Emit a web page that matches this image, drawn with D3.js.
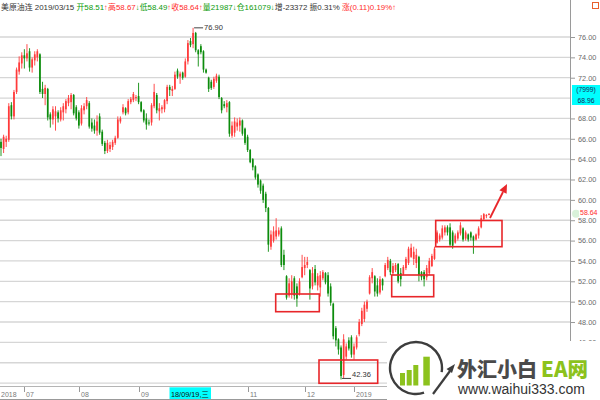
<!DOCTYPE html>
<html><head><meta charset="utf-8">
<script src="https://cdn.jsdelivr.net/npm/d3@7"></script>
<style>html,body{margin:0;padding:0;background:#fff;}svg{display:block;}</style>
</head><body>
<svg id="c" width="600" height="400"></svg>
<script>
// ---- data ----
const opens = [65.7,65.0,65.7,65.9,69.3,68.2,70.6,72.6,73.4,74.2,73.9,74.6,73.0,73.7,74.0,74.3,70.9,70.4,70.9,68.4,
67.9,68.2,68.6,67.9,68.6,68.9,69.5,69.6,70.3,69.1,68.6,67.5,68.8,69.2,69.5,67.6,67.3,66.8,68.2,66.7,
65.6,64.8,65.0,65.2,65.6,66.1,67.7,68.6,69.0,68.6,69.6,69.8,70.0,70.2,69.6,68.8,68.0,67.6,67.6,69.2,
70.3,68.7,68.9,68.9,69.7,71.1,70.7,70.9,72.7,72.1,72.5,72.1,73.6,75.6,75.3,76.4,74.7,75.1,74.6,72.8,
72.0,71.6,71.1,71.7,72.1,70.0,69.4,69.1,69.6,66.3,66.6,67.2,67.3,67.8,67.0,66.2,64.9,64.0,63.3,62.5,
61.9,61.4,60.6,59.2,55.4,56.0,56.4,56.6,57.2,54.6,52.5,50.6,50.8,52.3,51.5,50.8,52.4,53.3,53.6,53.1,
51.5,53.2,51.6,51.4,52.3,52.8,52.6,51.5,49.8,47.4,46.3,45.5,42.8,44.6,46.2,46.5,44.8,45.5,46.8,47.8,
48.3,49.3,50.8,52.3,52.5,51.6,50.9,52.2,52.5,53.3,54.0,52.8,53.1,53.7,52.8,52.7,53.3,53.8,54.4,54.2,
53.8,54.4,52.9,52.9,52.4,52.8,53.5,54.2,55.8,56.1,56.3,56.8,57.3,57.3,56.8,55.8,56.2,56.7,57.2,56.2,
56.6,56.8,56.4,56.1,56.5,57.3,58.1,58.4,58.51];
const highs = [66.0,66.4,66.3,69.5,69.6,70.8,73.0,74.1,74.5,74.8,75.3,74.9,74.0,74.6,74.8,74.4,71.6,71.3,71.0,68.6,
69.2,69.2,68.8,69.1,69.5,69.9,70.3,70.5,70.4,69.3,68.8,69.3,69.5,70.1,69.7,68.0,67.9,68.3,68.5,66.9,
65.8,65.9,65.7,65.9,66.3,68.2,68.2,69.4,69.1,69.9,70.1,70.6,70.3,71.5,69.7,68.9,68.5,67.9,69.5,71.4,
70.5,69.5,69.3,69.9,71.3,71.3,71.2,72.6,72.9,72.6,72.6,73.9,75.7,75.9,76.9,76.5,74.8,75.3,74.7,72.9,
72.1,71.8,72.1,72.4,72.3,70.1,69.7,69.8,69.7,67.7,68.1,68.0,68.1,67.9,67.1,66.4,65.0,64.1,63.4,62.6,
62.0,61.6,60.8,59.3,57.0,57.4,58.2,57.3,57.4,55.1,52.6,52.3,52.6,52.5,51.8,52.3,54.6,54.4,54.4,53.2,
53.4,53.6,52.8,53.0,53.1,52.9,52.9,51.8,49.9,47.6,46.4,45.7,46.8,45.9,46.5,46.7,45.9,46.7,48.3,49.4,
50.0,50.2,52.6,53.3,52.6,52.3,52.5,52.3,53.8,54.4,54.2,53.8,53.8,53.8,53.3,53.6,54.4,55.4,55.7,55.4,
55.2,54.5,53.0,53.1,53.6,54.3,54.7,55.4,57.0,56.7,57.5,57.5,57.5,57.7,57.0,56.7,57.0,57.8,57.3,57.0,
56.7,56.9,56.5,56.7,57.4,58.5,58.7,58.6,58.67];
const lows = [64.3,64.6,65.2,65.7,67.9,67.9,70.4,72.3,72.9,72.9,73.6,72.6,72.5,73.2,73.6,70.4,70.0,69.3,67.8,67.1,
67.4,66.8,67.6,67.7,67.8,68.5,69.2,68.9,68.3,67.8,67.0,67.3,68.4,68.9,67.0,66.7,66.5,66.3,66.4,65.3,
64.5,64.6,64.7,64.9,65.4,66.0,67.5,68.4,68.3,68.4,69.4,69.6,69.7,69.4,68.6,67.6,66.9,67.3,67.3,69.0,
68.5,67.8,68.5,68.6,69.4,70.2,70.2,70.8,71.9,71.4,71.8,72.0,73.3,75.0,74.9,74.5,73.1,74.3,72.5,72.4,
70.6,70.8,70.9,71.5,69.9,68.5,69.0,68.6,66.2,66.1,66.2,66.8,66.7,66.3,65.4,64.7,63.6,62.9,62.0,61.2,
60.6,59.7,58.8,54.9,55.1,55.8,56.1,56.4,53.4,53.1,50.2,50.4,50.3,50.2,49.5,50.6,52.3,52.6,53.3,50.2,
51.2,51.6,51.1,50.5,52.1,51.7,50.5,49.6,46.3,45.6,44.8,42.36,42.5,44.3,45.2,44.5,44.3,45.3,46.6,47.6,
48.0,49.0,50.7,51.8,50.5,50.5,50.7,51.1,52.4,53.1,52.6,52.6,52.9,51.8,51.5,52.6,53.1,53.6,54.3,53.6,
53.3,52.0,52.1,51.5,52.1,52.6,53.4,54.1,55.7,55.9,56.1,56.5,56.5,55.4,55.2,55.7,56.0,56.5,55.9,56.0,
55.9,56.0,54.7,56.0,56.2,57.2,58.0,58.2,58.49];
const closes = [65.1,66.2,66.0,69.2,68.2,70.6,72.8,73.5,74.2,73.9,74.4,73.0,73.8,74.3,74.6,70.6,70.4,71.0,68.1,67.9,
68.9,68.7,68.0,68.8,69.2,69.7,70.0,70.3,68.5,68.0,67.3,69.0,69.2,69.8,67.2,67.0,66.8,67.7,66.6,65.5,
64.8,65.6,65.4,65.7,66.1,67.9,68.0,69.1,68.5,69.7,69.9,70.4,70.1,69.6,68.7,67.8,67.4,67.5,69.3,70.6,
68.8,69.0,69.1,69.8,71.1,70.8,70.9,72.3,72.1,72.4,72.0,73.6,75.4,75.2,76.4,74.7,74.3,74.5,72.8,72.5,
70.9,71.0,71.9,72.2,70.1,68.8,69.2,69.5,66.5,67.3,67.7,67.6,67.8,66.5,65.6,64.9,63.7,63.2,62.2,61.5,
60.9,60.0,59.2,55.6,56.6,56.9,57.0,57.0,53.6,53.6,50.4,51.8,52.0,50.6,50.3,52.0,53.4,53.6,53.9,51.3,
52.8,51.9,52.5,52.6,52.9,51.9,50.8,49.9,46.6,46.2,45.3,42.7,46.3,45.6,45.4,44.8,45.6,46.5,48.0,49.1,
49.7,50.0,52.4,52.9,51.0,50.8,52.2,51.6,53.6,54.1,52.9,53.5,53.6,52.0,52.2,53.4,54.2,55.2,55.3,54.9,
54.6,52.6,52.4,52.2,53.3,54.0,54.5,55.2,56.8,56.5,57.2,57.3,56.8,55.6,55.5,56.5,56.8,57.5,56.1,56.8,
56.1,56.3,56.0,56.6,57.2,58.2,58.6,58.5,58.64];
// 70.00 is hidden by the cyan crosshair box in the reference
const priceTicks = [76,74,72,68,66,64,62,60,58,56,54,52,50,48,46];
const gridValues = [76,74,72,70,68,66,64,62,60,58,56,54,52,50,48,46,44,42];
const monthTickIdx = [0, 9, 30, 53, 95, 117, 136];
const monthTickLabels = ["2018","07","08","09","11","12","2019"];
const highMark = {i: 74, v: 76.90, label: "76.90"};
const lowMark = {i: 131, v: 42.36, label: "42.36"};
const lastPrice = 58.64;
const crossPrice = "68.96", crossCount = "(7999)", crossDate = "18/09/19,三";

// ---- drawing ----
const svg = d3.select("#c");
const FONT = "'Liberation Sans', Arial, 'Noto Sans CJK SC', sans-serif";
const n = closes.length;
const x = d3.scaleLinear().domain([0, n - 1]).range([1, 489]);
const y = d3.scaleLinear().domain([42, 76]).range([383.1, 37]);
const UP = "#ff3a3a", DOWN = "#0c8c0c";

// grid
svg.append("g").selectAll("line").data(gridValues).join("line")
  .attr("x1", 0).attr("x2", 570).attr("y1", d => y(d)).attr("y2", d => y(d))
  .attr("stroke", "#d6d6d6").attr("stroke-width", 1.3);

// right axis
const ax = svg.append("g").attr("transform", "translate(571,0)")
  .call(d3.axisRight(y).tickValues(priceTicks).tickFormat(d3.format(".2f")).tickSize(4).tickPadding(3));
ax.select(".domain").remove();
ax.selectAll("line").attr("stroke", "#999");
ax.selectAll("text").attr("fill", "#6a6a6a").style("font-family", FONT).style("font-size", "7.3px");
svg.append("line").attr("x1", 570.5).attr("x2", 570.5).attr("y1", 0).attr("y2", 341).attr("stroke", "#9a9a9a");

// candles
const idx = d3.range(n);
const cg = svg.append("g");
cg.selectAll("line").data(idx).join("line")
  .attr("x1", i => x(i)).attr("x2", i => x(i))
  .attr("y1", i => y(highs[i])).attr("y2", i => y(lows[i]))
  .attr("stroke", i => closes[i] >= opens[i] ? UP : DOWN).attr("stroke-width", 0.9);
cg.selectAll("rect").data(idx).join("rect")
  .attr("x", i => x(i) - 0.85).attr("width", 1.7)
  .attr("y", i => y(Math.max(opens[i], closes[i])))
  .attr("height", i => Math.max(0.8, Math.abs(y(opens[i]) - y(closes[i]))))
  .attr("fill", i => closes[i] >= opens[i] ? UP : DOWN);

// high / low marks
svg.append("line").attr("x1", x(highMark.i) + 1).attr("x2", x(highMark.i) + 10)
  .attr("y1", y(highMark.v)).attr("y2", y(highMark.v)).attr("stroke", "#444");
svg.append("text").attr("x", x(highMark.i) + 11).attr("y", y(highMark.v) + 2.6).text(highMark.label)
  .attr("fill", "#333").style("font-family", FONT).style("font-size", "7.5px");
svg.append("line").attr("x1", x(lowMark.i) + 1).attr("x2", x(lowMark.i) + 10)
  .attr("y1", y(lowMark.v) - 1).attr("y2", y(lowMark.v) - 1).attr("stroke", "#444");
svg.append("text").attr("x", x(lowMark.i) + 11).attr("y", y(lowMark.v) - 2).text(lowMark.label)
  .attr("fill", "#333").style("font-family", FONT).style("font-size", "7.5px");

// red boxes
const boxes = [[275.7,294,43.6,17.7],[319,360,58.7,23.3],[391.7,275,42,21.7],[435.7,220.5,66.3,26.2]];
svg.append("g").selectAll("rect").data(boxes).join("rect")
  .attr("x", d => d[0]).attr("y", d => d[1]).attr("width", d => d[2]).attr("height", d => d[3])
  .attr("fill", "none").attr("stroke", "#e8262a").attr("stroke-width", 1.6);
// arrow
svg.append("line").attr("x1", 490).attr("y1", 218).attr("x2", 503).attr("y2", 192)
  .attr("stroke", "#e8262a").attr("stroke-width", 1.8);
svg.append("polygon").attr("points", "507,184 506.6,193.8 499.4,190.2").attr("fill", "#e8262a");

// last price label
svg.append("circle").attr("cx", 576).attr("cy", y(lastPrice)).attr("r", 4).attr("fill", "#d9f2d9");
svg.append("rect").attr("x", 579).attr("y", y(lastPrice) - 5.5).attr("width", 21).attr("height", 7.5).attr("fill", "#fff");
svg.append("text").attr("x", 580).attr("y", y(lastPrice) + 1.2).text(lastPrice.toFixed(2))
  .attr("fill", "#ff2a2a").style("font-family", FONT).style("font-size", "7px");

// crosshair price box
svg.append("rect").attr("x", 572).attr("y", 85).attr("width", 28).attr("height", 20).attr("fill", "#00ffff");
svg.append("text").attr("x", 586).attr("y", 92.3).attr("text-anchor", "middle").text(crossCount)
  .attr("fill", "#1a2a5a").style("font-family", FONT).style("font-size", "6.8px");
svg.append("text").attr("x", 586).attr("y", 103).attr("text-anchor", "middle").text(crossPrice)
  .attr("fill", "#1a2a5a").style("font-family", FONT).style("font-size", "6.8px");

// bottom axis
svg.append("line").attr("x1", 0).attr("x2", 570).attr("y1", 386.5).attr("y2", 386.5).attr("stroke", "#b5b5b5");
svg.append("line").attr("x1", 0).attr("x2", 570).attr("y1", 399.5).attr("y2", 399.5).attr("stroke", "#999");
const bt = svg.append("g");
monthTickIdx.forEach((ti, k) => {
  const px = k === 0 ? 1 : Math.round(x(ti)) + 0.5;
  if (k > 0) bt.append("line").attr("x1", px).attr("x2", px).attr("y1", 387).attr("y2", 392).attr("stroke", "#999");
  bt.append("text").attr("x", k === 0 ? 1 : px + 1.5).attr("y", 396.5).text(monthTickLabels[k])
    .attr("fill", "#7a7a7a").style("font-family", FONT).style("font-size", "7px");
});
svg.append("rect").attr("x", 169.5).attr("y", 387.3).attr("width", 41.5).attr("height", 11.7).attr("fill", "#00ffff");
svg.append("text").attr("x", 171).attr("y", 396.5).text(crossDate)
  .attr("fill", "#111").style("font-family", FONT).style("font-size", "7.3px");

// header
const headerParts = [
  ["美原油连 2019/03/15 ", "#333"], ["开58.51", "#0a9a0a"], ["↑", "#ff2a2a"],
  ["高58.67", "#ff2a2a"], ["↓", "#0a9a0a"], ["低58.49", "#0a9a0a"], ["↑", "#ff2a2a"],
  ["收58.64", "#ff2a2a"], ["↑", "#ff2a2a"], ["量21987", "#0a9a0a"], ["↓", "#0a9a0a"],
  ["仓161079", "#0a9a0a"], ["↓", "#0a9a0a"], ["增-23372 振0.31% ", "#333"], ["涨(0.11)0.19%↑", "#ff2a2a"]
];
const ht = svg.append("text").attr("x", 1).attr("y", 10).style("font-family", FONT).style("font-size", "7.9px");
headerParts.forEach(p => ht.append("tspan").text(p[0]).attr("fill", p[1]));
svg.append("rect").attr("x", 592.5).attr("y", 2.5).attr("width", 6).attr("height", 6)
  .attr("fill", "none").attr("stroke", "#e8602c");

// watermark
const wm = svg.append("g");
wm.append("rect").attr("x", 387).attr("y", 341).attr("width", 213).attr("height", 59).attr("fill", "#fff");
const arc = d3.arc().innerRadius(24.8).outerRadius(27.2).startAngle(Math.PI * 0.9).endAngle(Math.PI * 2.55);
wm.append("path").attr("d", arc()).attr("transform", "translate(416,368)").attr("fill", "#3d3d3d");
const bars = [[400,373,5],[406.7,370,5],[413.3,365,5],[423.3,356.7,6.5]];
wm.selectAll("rect.b").data(bars).join("rect").attr("class", "b")
  .attr("x", d => d[0]).attr("y", d => d[1]).attr("width", d => d[2]).attr("height", d => 385.5 - d[1]).attr("fill", "#8cc21d");
wm.append("line").attr("x1", 433).attr("y1", 394).attr("x2", 450).attr("y2", 371).attr("stroke", "#3d3d3d").attr("stroke-width", 2.2);
wm.append("polygon").attr("points", "455,364 446.5,369 452,373").attr("fill", "#3d3d3d");
wm.append("text").attr("x", 457).attr("y", 377).text("外汇小白").attr("fill", "#4a4a4a")
  .style("font-family", "'Noto Sans CJK SC', sans-serif").style("font-weight", "900").style("font-size", "20px");
wm.append("text").attr("x", 541).attr("y", 377).text("EA网").attr("fill", "#8cc21d")
  .style("font-family", "'Noto Sans CJK SC', sans-serif").style("font-weight", "900").style("font-size", "20.5px");
wm.append("text").attr("x", 458).attr("y", 393.5).text("www.waihui333.com").attr("fill", "#333")
  .style("font-family", FONT).style("font-size", "14px");
</script>
</body></html>
